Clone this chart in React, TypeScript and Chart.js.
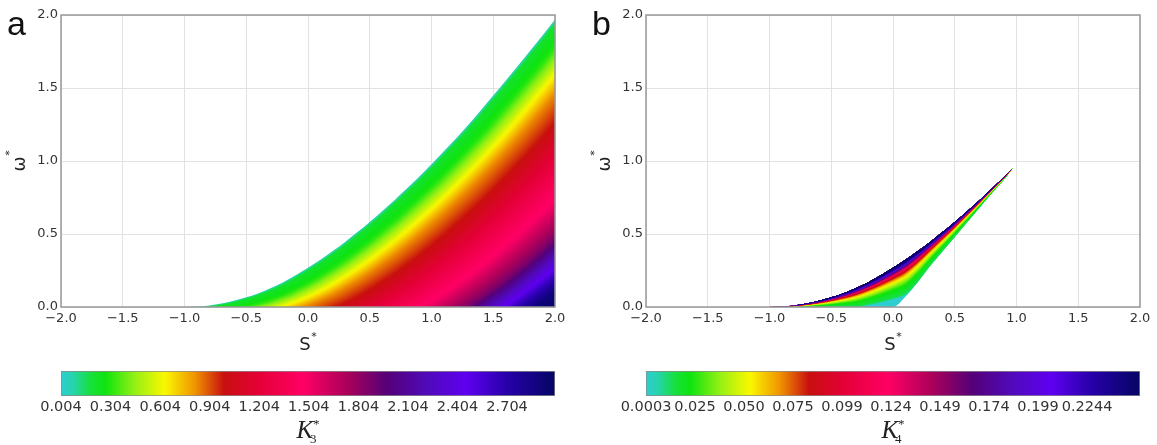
import React, { useEffect, useRef } from 'react';
import { Chart, registerables } from 'chart.js';

Chart.register(...registerables);

// ---------- data ----------
// upper edge of the admissible region (panel a), omega* vs S*
const S_GRID = [-1.0, -0.9, -0.8, -0.7, -0.6, -0.5, -0.4, -0.3, -0.2, -0.1, 0.0, 0.1, 0.2, 0.3, 0.4, 0.5, 0.6, 0.7, 0.8, 0.9, 1.0, 1.1, 1.2, 1.3, 1.4, 1.5, 1.6, 1.7, 1.8, 1.9, 2.0];
const OMEGA_EDGE = [0.0, 0.003, 0.011, 0.024, 0.042, 0.066, 0.095, 0.13, 0.17, 0.217, 0.268, 0.323, 0.383, 0.446, 0.513, 0.583, 0.656, 0.732, 0.811, 0.892, 0.978, 1.066, 1.156, 1.25, 1.348, 1.448, 1.55, 1.652, 1.756, 1.862, 1.97];

// panel b: lens between an upper and a lower edge
const S_GRID_B = [-1.0, -0.9, -0.8, -0.7, -0.6, -0.5, -0.4, -0.3, -0.2, -0.1, 0.0, 0.1, 0.2, 0.3, 0.4, 0.5, 0.6, 0.7, 0.8, 0.9, 0.97];
const OMEGA_UPPER_B = [0.0, 0.003, 0.011, 0.024, 0.042, 0.066, 0.095, 0.13, 0.17, 0.217, 0.268, 0.323, 0.383, 0.446, 0.513, 0.583, 0.656, 0.732, 0.811, 0.892, 0.95];
const OMEGA_LOWER_B = [0, 0, 0, 0, 0, 0, 0, 0, 0, 0, 0, 0.07, 0.17, 0.28, 0.38, 0.48, 0.58, 0.68, 0.78, 0.875, 0.95];
// top of the cyan (lowest K4) patch near S* = 0
const OMEGA_CYAN_B = [0, 0, 0, 0, 0, 0, 0, 0, 0.015, 0.033, 0.055, 0.085, 0.17, 0.28, 0.38, 0.48, 0.58, 0.68, 0.78, 0.875, 0.95];

// panel a iso-K3 lines: the edge shifted right by ISO_SHIFT_A and down by ISO_DROP_A * shift
const ISO_SHIFT_A = [0, 0.02, 0.15, 0.3, 0.4, 0.6, 0.8, 1.05, 1.3, 1.55, 1.7, 1.85];
const ISO_K3 = [0.004, 0.2, 0.3, 0.63, 0.82, 1.02, 1.24, 1.49, 1.87, 2.55, 2.9, 2.994];
const ISO_DROP_A = 0.2;

// panel b iso-K4 lines: fraction of lens height measured from the upper edge
const ISO_FRAC_B = [0, 0.08, 0.18, 0.3, 0.4, 0.5, 0.7, 1.0];
const ISO_K4 = [0.2513, 0.238, 0.171, 0.095, 0.07, 0.05, 0.025, 0.012];
const K4_CYAN = 0.0003;

// colour bars
const K3_RANGE = [0.004, 2.994];
const K3_TICKS = [0.004, 0.304, 0.604, 0.904, 1.204, 1.504, 1.804, 2.104, 2.404, 2.704];
const K3_LABELS = ['0.004', '0.304', '0.604', '0.904', '1.204', '1.504', '1.804', '2.104', '2.404', '2.704'];
const K4_RANGE = [0.0003, 0.2513];
const K4_TICKS = [0.0003, 0.0252, 0.0501, 0.075, 0.0999, 0.1248, 0.1497, 0.1746, 0.1995, 0.2244];
const K4_LABELS = ['0.0003', '0.025', '0.050', '0.075', '0.099', '0.124', '0.149', '0.174', '0.199', '0.2244'];

// axis ticks
const S_TICKS = [-2.0, -1.5, -1.0, -0.5, 0.0, 0.5, 1.0, 1.5, 2.0];
const OMEGA_TICKS = [0.0, 0.5, 1.0, 1.5, 2.0];

// colour map stops
const CMAP_POS = [0.0, 0.025, 0.06, 0.09, 0.15, 0.21, 0.27, 0.33, 0.4, 0.49, 0.58, 0.66, 0.74, 0.82, 0.9, 1.0];
const CMAP_RGB = [
  [45, 205, 210], [38, 212, 170], [22, 224, 60], [15, 228, 15], [150, 240, 20], [250, 248, 0], [240, 150, 0],
  [200, 15, 15], [228, 0, 55], [255, 0, 100], [170, 0, 90], [85, 0, 120], [80, 10, 185],
  [95, 0, 240], [40, 0, 170], [5, 5, 100],
];

// ---------- helpers ----------
const N_A = 110;
const N_B = 60;
const TICK_FONT = { family: '"DejaVu Sans", sans-serif', size: 13 };
const TICK_COLOR = '#333';
const GRID_COLOR = '#e2e2e2';
const FRAME_COLOR = '#999';

function interp(xs: number[], ys: number[], x: number): number {
  if (x <= xs[0]) return ys[0];
  for (let i = 1; i < xs.length; i++) {
    if (x <= xs[i]) {
      const t = (x - xs[i - 1]) / (xs[i] - xs[i - 1]);
      return ys[i - 1] + t * (ys[i] - ys[i - 1]);
    }
  }
  return ys[ys.length - 1];
}

function rgb(c: number[]) {
  return `rgb(${Math.round(c[0])},${Math.round(c[1])},${Math.round(c[2])})`;
}

function cmapColor(v: number): string {
  const x = Math.max(0, Math.min(1, v));
  for (let i = 1; i < CMAP_POS.length; i++) {
    if (x <= CMAP_POS[i]) {
      const t = (x - CMAP_POS[i - 1]) / (CMAP_POS[i] - CMAP_POS[i - 1]);
      const a = CMAP_RGB[i - 1];
      const b = CMAP_RGB[i];
      return rgb([a[0] + t * (b[0] - a[0]), a[1] + t * (b[1] - a[1]), a[2] + t * (b[2] - a[2])]);
    }
  }
  return rgb(CMAP_RGB[CMAP_RGB.length - 1]);
}

const norm3 = (k: number) => (k - K3_RANGE[0]) / (K3_RANGE[1] - K3_RANGE[0]);
const norm4 = (k: number) => (k - K4_RANGE[0]) / (K4_RANGE[1] - K4_RANGE[0]);

function fmtTick(v: number) {
  return (v < 0 ? '\u2212' : '') + Math.abs(v).toFixed(1);
}

function buildBandsA() {
  const ds: any[] = [];
  const dMax = ISO_SHIFT_A[ISO_SHIFT_A.length - 1];
  const step = dMax / N_A;
  for (let i = N_A; i >= 0; i--) {
    const d = i * step;
    const k = interp(ISO_SHIFT_A, ISO_K3, Math.min(dMax, d + step / 2));
    const color = cmapColor(norm3(k));
    ds.push({
      data: S_GRID.map((s, j) => ({ x: s + d, y: OMEGA_EDGE[j] - ISO_DROP_A * d })),
      fill: 'origin',
      backgroundColor: color,
      borderColor: color,
      borderWidth: 0,
      pointRadius: 0,
    });
  }
  return ds;
}

function buildBandsB() {
  const ds: any[] = [
    {
      data: S_GRID_B.map((s, j) => ({ x: s, y: OMEGA_UPPER_B[j] })),
      fill: false,
      borderWidth: 0,
      borderColor: 'rgba(0,0,0,0)',
      pointRadius: 0,
    },
  ];
  for (let j = 1; j <= N_B; j++) {
    const t = j / N_B;
    const k = interp(ISO_FRAC_B, ISO_K4, t - 0.5 / N_B);
    const color = cmapColor(norm4(k));
    ds.push({
      data: S_GRID_B.map((s, i) => ({ x: s, y: OMEGA_UPPER_B[i] - t * (OMEGA_UPPER_B[i] - OMEGA_CYAN_B[i]) })),
      fill: 0,
      backgroundColor: color,
      borderColor: color,
      borderWidth: 0,
      pointRadius: 0,
    });
  }
  const cyan = cmapColor(norm4(K4_CYAN));
  ds.push({
    data: S_GRID_B.map((s, i) => ({ x: s, y: OMEGA_LOWER_B[i] })),
    fill: 0,
    backgroundColor: cyan,
    borderColor: cyan,
    borderWidth: 0,
    pointRadius: 0,
  });
  return ds;
}

function framePlugin(letter: string) {
  return {
    id: 'frame_' + letter,
    afterDraw(chart: any) {
      const { ctx, chartArea: a } = chart;
      ctx.save();
      ctx.strokeStyle = FRAME_COLOR;
      ctx.lineWidth = 1.5;
      ctx.strokeRect(a.left, a.top, a.right - a.left, a.bottom - a.top);
      ctx.fillStyle = '#111';
      ctx.textAlign = 'left';
      ctx.textBaseline = 'alphabetic';
      ctx.font = '34px "Liberation Sans", Arial, sans-serif';
      ctx.fillText(letter, a.left - 54, 35);
      const cx = (a.left + a.right) / 2;
      ctx.fillStyle = '#222';
      ctx.textAlign = 'center';
      ctx.font = '18px "DejaVu Sans", sans-serif';
      ctx.fillText('S', cx - 3, 350);
      ctx.font = '11px "DejaVu Sans", sans-serif';
      ctx.fillText('*', cx + 6, 340);
      ctx.translate(a.left - 41, (a.top + a.bottom) / 2);
      ctx.rotate(-Math.PI / 2);
      ctx.textBaseline = 'middle';
      ctx.font = '18px "DejaVu Sans", sans-serif';
      ctx.fillText('\u03c9', -3, 0);
      ctx.font = '11px "DejaVu Sans", sans-serif';
      ctx.fillText('*', 8, -10);
      ctx.restore();
    },
  };
}

function kLabelPlugin(sub: string) {
  return {
    id: 'klabel_' + sub,
    afterDraw(chart: any) {
      const { ctx, chartArea: a } = chart;
      ctx.save();
      ctx.fillStyle = '#222';
      ctx.textBaseline = 'alphabetic';
      ctx.textAlign = 'left';
      ctx.font = 'italic 25px "Liberation Serif", "DejaVu Serif", serif';
      const wK = ctx.measureText('K').width;
      ctx.font = '13px "Liberation Serif", "DejaVu Serif", serif';
      const wS = ctx.measureText(sub).width;
      const x0 = (a.left + a.right) / 2 - (wK + wS) / 2;
      const by = 78;
      ctx.font = 'italic 25px "Liberation Serif", "DejaVu Serif", serif';
      ctx.fillText('K', x0, by);
      ctx.font = '13px "Liberation Serif", "DejaVu Serif", serif';
      ctx.fillText(sub, x0 + wK - 3, by + 5);
      ctx.fillText('*', x0 + wK, by - 10);
      ctx.restore();
    },
  };
}

function panelConfig(datasets: any[], letter: string, rightPad: number): any {
  return {
    type: 'line',
    data: { datasets },
    options: {
      animation: false,
      responsive: false,
      devicePixelRatio: 1,
      events: [],
      layout: { padding: { top: 15, right: rightPad, left: 0, bottom: 0 } },
      elements: {
        point: { radius: 0 },
        line: { borderWidth: 0, cubicInterpolationMode: 'monotone' },
      },
      scales: {
        x: {
          type: 'linear',
          min: -2,
          max: 2,
          afterBuildTicks: (s: any) => {
            s.ticks = S_TICKS.map((v) => ({ value: v }));
          },
          afterFit: (s: any) => {
            s.height = 53;
          },
          ticks: { callback: (v: number) => fmtTick(v), font: TICK_FONT, color: TICK_COLOR, padding: 4, maxRotation: 0, autoSkip: false },
          grid: { color: GRID_COLOR, drawTicks: false, lineWidth: 1 },
          border: { display: false },
        },
        y: {
          type: 'linear',
          min: 0,
          max: 2,
          afterBuildTicks: (s: any) => {
            s.ticks = OMEGA_TICKS.map((v) => ({ value: v }));
          },
          afterFit: (s: any) => {
            s.width = 61;
          },
          ticks: { callback: (v: number) => fmtTick(v), font: TICK_FONT, color: TICK_COLOR, padding: 3, autoSkip: false },
          grid: { color: GRID_COLOR, drawTicks: false, lineWidth: 1 },
          border: { display: false },
        },
      },
      plugins: { legend: { display: false }, tooltip: { enabled: false } },
    },
    plugins: [framePlugin(letter)],
  };
}

function colorbarConfig(range: number[], ticks: number[], labels: string[], sub: string, rightPad: number): any {
  return {
    type: 'bar',
    data: {
      labels: [''],
      datasets: [
        {
          data: [[range[0], range[1]]],
          backgroundColor: (c: any) => {
            const chart = c.chart;
            const a = chart.chartArea;
            if (!a) return '#888';
            const g = chart.ctx.createLinearGradient(a.left, 0, a.right, 0);
            CMAP_POS.forEach((p, i) => g.addColorStop(p, rgb(CMAP_RGB[i])));
            return g;
          },
          borderColor: '#8a8a8a',
          borderWidth: 1,
          borderSkipped: false,
          barPercentage: 1,
          categoryPercentage: 1,
        },
      ],
    },
    options: {
      indexAxis: 'y',
      animation: false,
      responsive: false,
      devicePixelRatio: 1,
      events: [],
      layout: { padding: { top: 11, right: rightPad, left: 61, bottom: 0 } },
      scales: {
        x: {
          type: 'linear',
          min: range[0],
          max: range[1],
          afterBuildTicks: (s: any) => {
            s.ticks = ticks.map((v) => ({ value: v }));
          },
          afterFit: (s: any) => {
            s.height = 49;
          },
          ticks: {
            callback: (_v: number, i: number) => labels[i],
            font: { family: '"DejaVu Sans", sans-serif', size: 14.5 },
            color: '#333',
            padding: 3,
            maxRotation: 0,
            autoSkip: false,
          },
          grid: { display: false, drawTicks: false },
          border: { display: false },
        },
        y: { display: false },
      },
      plugins: { legend: { display: false }, tooltip: { enabled: false } },
    },
    plugins: [kLabelPlugin(sub)],
  };
}

export default function App() {
  const aRef = useRef<HTMLCanvasElement>(null);
  const bRef = useRef<HTMLCanvasElement>(null);
  const caRef = useRef<HTMLCanvasElement>(null);
  const cbRef = useRef<HTMLCanvasElement>(null);

  useEffect(() => {
    document.body.style.margin = '0';
    const charts = [
      new Chart(aRef.current!, panelConfig(buildBandsA(), 'a', 25)),
      new Chart(bRef.current!, panelConfig(buildBandsB(), 'b', 17)),
      new Chart(caRef.current!, colorbarConfig(K3_RANGE, K3_TICKS, K3_LABELS, '3', 25)),
      new Chart(cbRef.current!, colorbarConfig(K4_RANGE, K4_TICKS, K4_LABELS, '4', 17)),
    ];
    return () => charts.forEach((c) => c.destroy());
  }, []);

  return (
    <div style={{ position: 'relative', width: 1157, height: 445, background: '#fff', overflow: 'hidden' }}>
      <canvas ref={aRef} width={580} height={360} style={{ position: 'absolute', left: 0, top: 0 }} />
      <canvas ref={bRef} width={572} height={360} style={{ position: 'absolute', left: 585, top: 0 }} />
      <canvas ref={caRef} width={580} height={85} style={{ position: 'absolute', left: 0, top: 360 }} />
      <canvas ref={cbRef} width={572} height={85} style={{ position: 'absolute', left: 585, top: 360 }} />
    </div>
  );
}
